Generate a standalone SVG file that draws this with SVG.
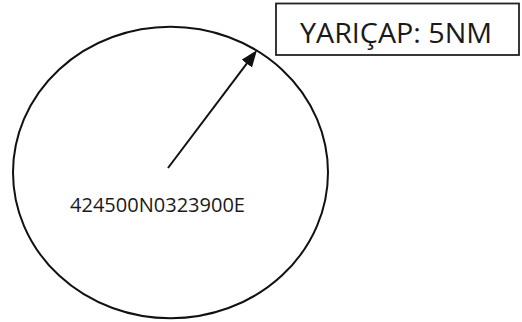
<svg xmlns="http://www.w3.org/2000/svg" width="522" height="322" viewBox="0 0 522 322">
  <style>
    .shape { fill: none; stroke: #111; stroke-width: 2; }
    .box { fill: #fff; stroke: #222; stroke-width: 1.8; }
    .label { font-family: "Open Sans", "Liberation Sans", sans-serif; fill: #1a1a1a; }
    .conn { stroke: #111; stroke-width: 2; fill: none; }
  </style>
  <defs>
    <marker id="arrow" markerUnits="userSpaceOnUse" markerWidth="18" markerHeight="14" refX="3" refY="6.5" orient="auto">
      <path d="M0,0 L17,6.5 L0,13 z" fill="#111"/>
    </marker>
  </defs>
  <rect width="522" height="322" fill="#fff"/>
  <g id="circle-node">
    <ellipse class="shape" cx="170.5" cy="172.5" rx="157.5" ry="145.8"/>
    <text class="label" x="70" y="212" font-size="20" textLength="175" lengthAdjust="spacingAndGlyphs">424500N0323900E</text>
  </g>
  <g id="radius-box">
    <rect class="box" x="276" y="3.5" width="243" height="51.5"/>
    <text class="label" x="300" y="43" font-size="26.5" textLength="192" lengthAdjust="spacingAndGlyphs">YARIÇAP: 5NM</text>
  </g>
  <g id="connectors">
    <line class="conn" x1="168" y1="168" x2="248.6" y2="61.2" marker-end="url(#arrow)"/>
  </g>
</svg>
